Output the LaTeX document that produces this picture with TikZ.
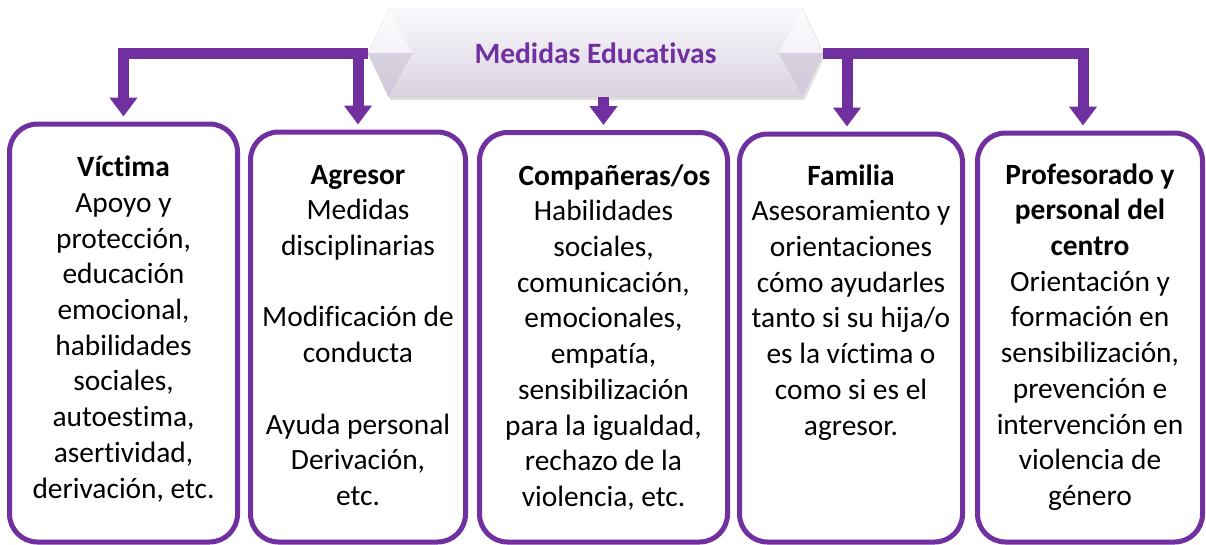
\documentclass[tikz,border=0pt]{standalone}
\usepackage{fontspec}
\setmainfont{Carlito}[Ligatures={NoCommon,NoContextual}]
\usetikzlibrary{arrows.meta, positioning, shapes.symbols, shadows}
\definecolor{morado}{HTML}{7030A0}
\definecolor{lila}{HTML}{D9D2E2}
\definecolor{lilaclaro}{HTML}{FAF9FC}
\definecolor{faceta}{HTML}{C9C1D3}

\begin{document}
\begin{tikzpicture}[x=1pt, y=-1pt,
  caja/.style={draw=morado, line width=5pt, rounded corners=28pt, anchor=north, inner sep=0pt},
  txt/.style={anchor=north, align=center, inner sep=0pt, font=\fontsize{29.4}{35.7}\selectfont},
  flecha/.style={draw=morado, line width=11pt, -{Triangle[width=27pt, length=19pt]}, shorten >=5pt},
  banner/.style={signal, signal to=west and east, signal pointer angle=130,
    minimum width=455pt, minimum height=88pt, inner sep=0pt,
    top color=lilaclaro, bottom color=lila, draw=gray!35, thin,
    drop shadow={opacity=0.25, shadow xshift=2pt, shadow yshift=-3pt},
    text=morado, font=\fontsize{29.5}{34}\selectfont\bfseries},
  faceta/.style={fill=faceta, opacity=0.55}]

  \useasboundingbox (0,0) rectangle (1206,544);

  % cajas
  \node[caja, minimum width=228pt, minimum height=418pt] (vic) at (123.5,121.5) {};
  \node[caja, minimum width=215pt, minimum height=410pt] (agr) at (358,129.5) {};
  \node[caja, minimum width=248pt, minimum height=409.5pt] (com) at (603.5,130) {};
  \node[caja, minimum width=223pt, minimum height=408pt] (fam) at (851,131.5) {};
  \node[caja, minimum width=225pt, minimum height=409pt] (pro) at (1090,130.5) {};

  % titulo
  \node[banner] (med) at (595.5,53) {};
  \fill[faceta] (med.west) -- ++(21,43) -- ++(24,-43) -- cycle;
  \fill[faceta] (med.east) -- ++(-21,43) -- ++(-24,-43) -- cycle;
  \fill[white, opacity=0.5] (med.west) -- ++(20,-43) -- ++(25,43) -- cycle;
  \fill[white, opacity=0.5] (med.east) -- ++(-20,-43) -- ++(-25,43) -- cycle;
  \node[text=morado, font=\fontsize{29.5}{34}\selectfont\bfseries] (tmed) at (med.center) {Medidas Educativas};

  % flechas
  \coordinate (famtop) at ([xshift=-4pt]fam.north);
  \coordinate (protop) at ([xshift=-7pt]pro.north);
  \draw[flecha] (med.west) -| (vic.north);
  \draw[flecha] (med.west -| agr.north) -- (agr.north);
  \draw[flecha] (med.south -| com.north) -- (com.north);
  \draw[flecha] (med.east) -| (protop);
  \draw[flecha] (med.east -| famtop) -- (famtop);

  % textos
  \node[txt, below=30pt of vic.north] (tvic) {\strut\textbf{Víctima}\\Apoyo y\\protección,\\educación\\emocional,\\habilidades\\sociales,\\autoestima,\\asertividad,\\derivación, etc.};
  \node[txt, below=29.5pt of agr.north] (tagr) {\strut\textbf{Agresor}\\Medidas\\disciplinarias\\[35.7pt]Modificación de\\conducta\\[35.7pt]Ayuda personal\\Derivación,\\etc.};
  \node[txt, below=30pt of com.north] (tcom) {\strut\hspace*{22pt}\textbf{Compañeras/os}\\Habilidades\\sociales,\\comunicación,\\emocionales,\\empatía,\\sensibilización\\para la igualdad,\\rechazo de la\\violencia, etc.};
  \node[txt, below=28.5pt of fam.north] (tfam) {\strut\textbf{Familia}\\Asesoramiento y\\orientaciones\\cómo ayudarles\\tanto si su hija/o\\es la víctima o\\como si es el\\agresor.};
  \node[txt, below=28.5pt of pro.north] (tpro) {\strut\textbf{Profesorado y}\\\textbf{personal del}\\\textbf{centro}\\Orientación y\\formación en\\sensibilización,\\prevención e\\intervención en\\violencia de\\género};
\end{tikzpicture}
\end{document}
